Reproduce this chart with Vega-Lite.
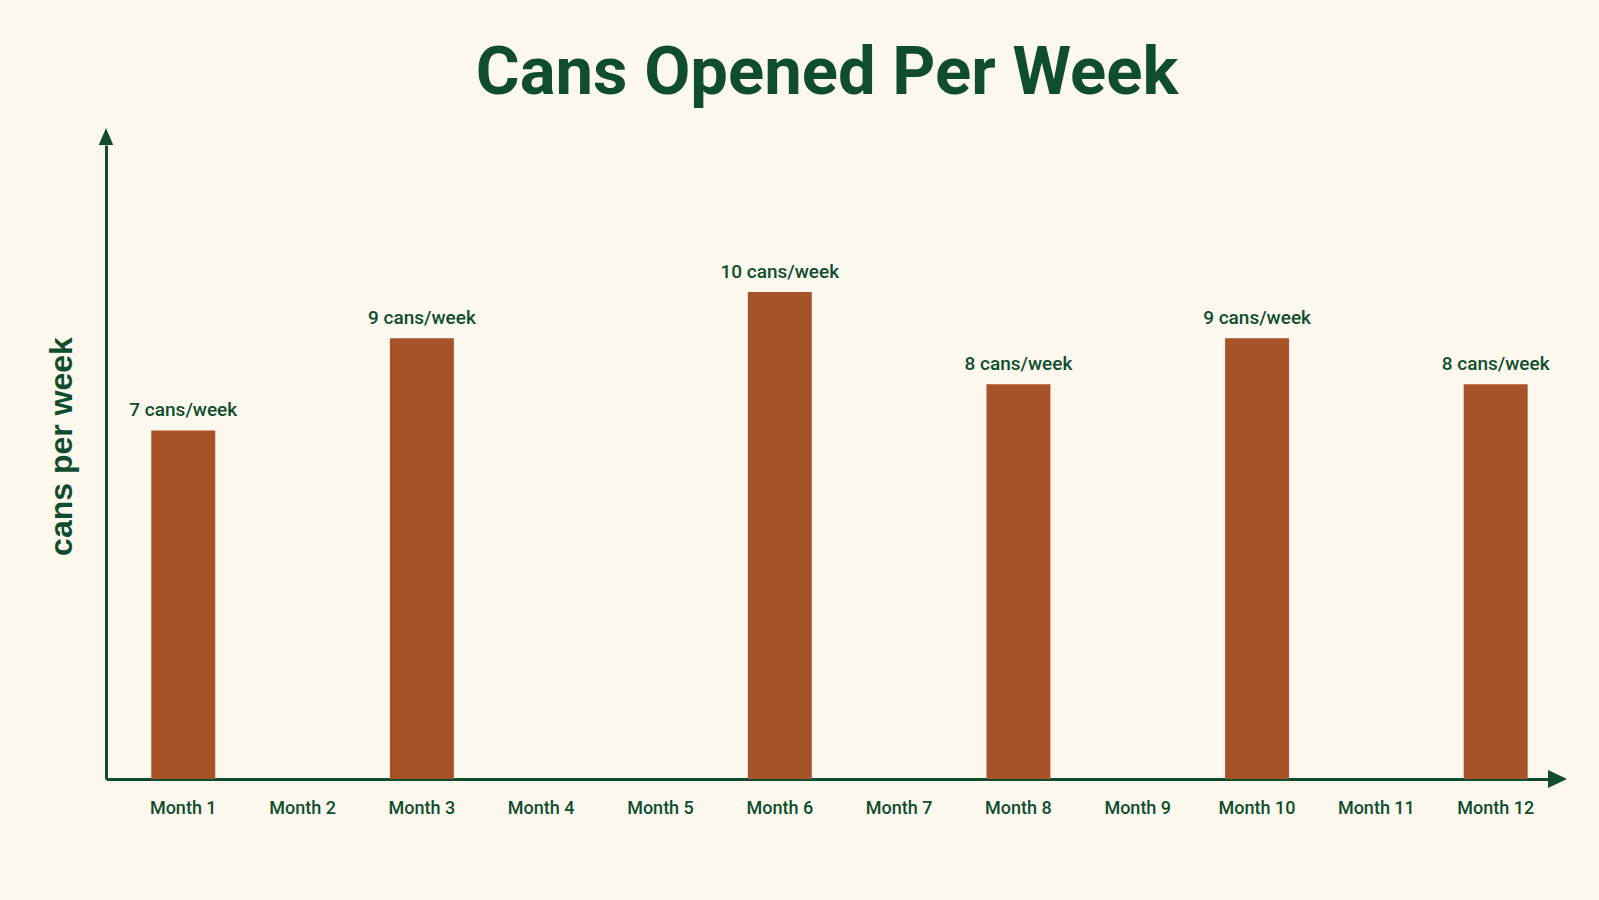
{
  "$schema": "https://vega.github.io/schema/vega-lite/v6.json",
  "description": "Cans opened per week, by month.",
  "width": 1442,
  "height": 634,
  "autosize": "none",
  "padding": {"left": 106, "top": 145, "right": 51, "bottom": 121},
  "background": "#fcf8ee",
  "config": {"view": {"stroke": null}},
  "title": {
    "text": "Cans Opened Per Week",
    "font": "Roboto",
    "fontSize": 67,
    "fontWeight": "bold",
    "color": "#0f4d2e",
    "anchor": "middle",
    "frame": "group",
    "offset": 20
  },
  "data": {
    "values": [
      {"month": "Month 1", "cans": 7, "label": "7 cans/week"},
      {"month": "Month 2", "cans": null, "label": null},
      {"month": "Month 3", "cans": 9, "label": "9 cans/week"},
      {"month": "Month 4", "cans": null, "label": null},
      {"month": "Month 5", "cans": null, "label": null},
      {"month": "Month 6", "cans": 10, "label": "10 cans/week"},
      {"month": "Month 7", "cans": null, "label": null},
      {"month": "Month 8", "cans": 8, "label": "8 cans/week"},
      {"month": "Month 9", "cans": null, "label": null},
      {"month": "Month 10", "cans": 9, "label": "9 cans/week"},
      {"month": "Month 11", "cans": null, "label": null},
      {"month": "Month 12", "cans": 8, "label": "8 cans/week"}
    ]
  },
  "layer": [
    {
      "mark": {"type": "bar", "color": "#a8522a"},
      "encoding": {
        "x": {
          "field": "month",
          "type": "nominal",
          "sort": null,
          "scale": {
            "domain": ["Month 1", "Month 2", "Month 3", "Month 4", "Month 5", "Month 6",
                       "Month 7", "Month 8", "Month 9", "Month 10", "Month 11", "Month 12"],
            "paddingInner": 0.464,
            "paddingOuter": 0.275,
            "align": 0.69
          },
          "axis": {
            "title": null,
            "ticks": false,
            "grid": false,
            "labelAngle": 0,
            "labelFont": "Roboto",
            "labelFontSize": 18,
            "labelFontWeight": 500,
            "labelColor": "#0f4d2e",
            "labelPadding": 20,
            "domainColor": "#0f4d2e",
            "domainWidth": 3
          }
        },
        "y": {
          "field": "cans",
          "type": "quantitative",
          "scale": {"domain": [-0.553, 13.185], "nice": false, "zero": false},
          "axis": {
            "title": "cans per week",
            "labels": false,
            "ticks": false,
            "grid": false,
            "domainColor": "#0f4d2e",
            "domainWidth": 3,
            "titleFont": "Liberation Sans",
            "titleFontSize": 32,
            "titleFontWeight": "bold",
            "titleColor": "#0f4d2e",
            "titlePadding": 28,
            "titleY": 301
          }
        },
        "y2": {"datum": -0.553}
      }
    },
    {
      "mark": {
        "type": "text",
        "dy": -14,
        "baseline": "alphabetic",
        "font": "Roboto",
        "fontSize": 19,
        "fontWeight": 500,
        "color": "#0f4d2e"
      },
      "encoding": {
        "x": {"field": "month", "type": "nominal", "sort": null},
        "y": {"field": "cans", "type": "quantitative"},
        "text": {"field": "label"}
      }
    },
    {
      "data": {"values": [{}]},
      "mark": {
        "type": "point",
        "shape": "M-0.85,0L0,-2L0.85,0Z",
        "size": 289,
        "filled": true,
        "opacity": 1,
        "strokeWidth": 0,
        "color": "#0f4d2e"
      },
      "encoding": {"x": {"value": 0}, "y": {"value": 0}}
    },
    {
      "data": {"values": [{}]},
      "mark": {
        "type": "point",
        "shape": "M0,-0.95L2,0L0,0.95Z",
        "size": 361,
        "filled": true,
        "opacity": 1,
        "strokeWidth": 0,
        "color": "#0f4d2e"
      },
      "encoding": {"x": {"value": "width"}, "y": {"value": "height"}}
    }
  ]
}
